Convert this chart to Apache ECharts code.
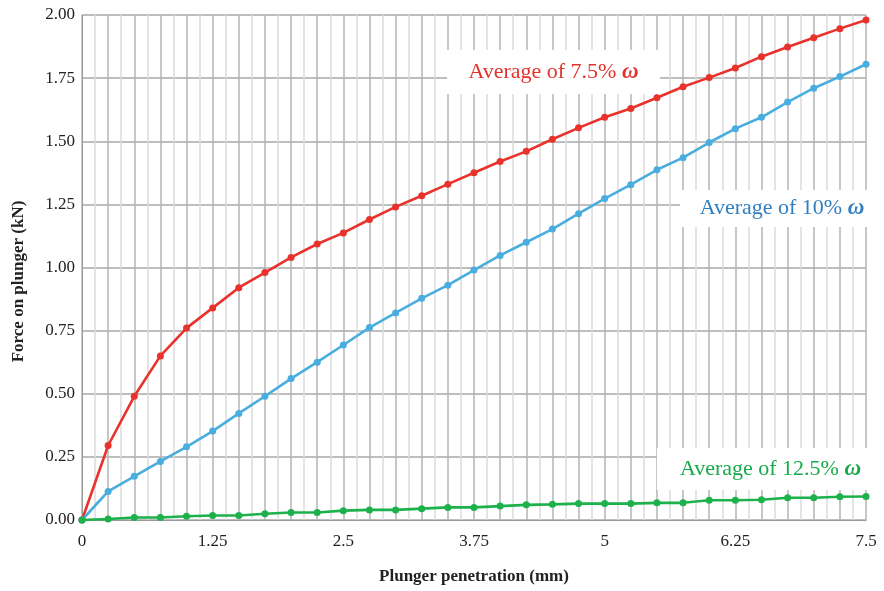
<!DOCTYPE html>
<html>
<head>
<meta charset="utf-8">
<script src="https://cdn.jsdelivr.net/npm/echarts@6/dist/echarts.min.js"></script>
<style>
  html, body { margin: 0; padding: 0; background: #fff; }
  #chart { width: 884px; height: 591px; }
</style>
</head>
<body>
<div id="chart"></div>
<script>
// Plunger penetration (mm), sampled every 0.25 mm
const penetration = [0, 0.25, 0.5, 0.75, 1, 1.25, 1.5, 1.75, 2, 2.25, 2.5, 2.75, 3, 3.25, 3.5, 3.75,
  4, 4.25, 4.5, 4.75, 5, 5.25, 5.5, 5.75, 6, 6.25, 6.5, 6.75, 7, 7.25, 7.5];

// Force on plunger (kN) for each moisture content
const force75 = [0, 0.295, 0.49, 0.65, 0.76, 0.84, 0.92, 0.98, 1.04, 1.093, 1.137, 1.19, 1.24, 1.284, 1.33, 1.375,
  1.42, 1.46, 1.508, 1.553, 1.595, 1.63, 1.672, 1.716, 1.752, 1.79, 1.835, 1.873, 1.91, 1.946, 1.98];
const force10 = [0, 0.113, 0.173, 0.232, 0.29, 0.352, 0.422, 0.49, 0.56, 0.625, 0.693, 0.762, 0.82, 0.878, 0.93, 0.99,
  1.048, 1.1, 1.152, 1.213, 1.273, 1.328, 1.387, 1.435, 1.495, 1.55, 1.595, 1.655, 1.71, 1.756, 1.805];
const force125 = [0, 0.004, 0.01, 0.01, 0.015, 0.018, 0.018, 0.025, 0.03, 0.03, 0.037, 0.04, 0.04, 0.045, 0.05, 0.05,
  0.055, 0.06, 0.062, 0.065, 0.065, 0.065, 0.068, 0.068, 0.078, 0.078, 0.08, 0.088, 0.088, 0.092, 0.093];

const seriesNames = ['Average of 7.5% ω', 'Average of 10% ω', 'Average of 12.5% ω'];
const labelPrefixes = ['Average of 7.5% ', 'Average of 10% ', 'Average of 12.5% '];
const xTickLabels = [0, 1.25, 2.5, 3.75, 5, 6.25, 7.5];

const RED = '#e8322b', BLUE = '#4aaddf', GREEN = '#1db14b';
const serif = '"Liberation Serif", "DejaVu Serif", serif';

function pairs(ys) { return penetration.map((x, i) => [x, ys[i]]); }

function lineSeries(name, ys, color) {
  return {
    name: name,
    type: 'line',
    data: pairs(ys),
    symbol: 'circle',
    symbolSize: 7,
    lineStyle: { color: color, width: 2.6 },
    itemStyle: { color: color },
    z: 3
  };
}

// White box plus centred caption ending in a bold italic omega
function labelBox(x, y, w, h, prefix, color) {
  return [
    {
      type: 'rect', z: 10,
      shape: { x: x, y: y, width: w, height: h },
      style: { fill: '#ffffff' }
    },
    {
      type: 'text', z: 11,
      x: x + w / 2, y: y + h / 2,
      style: {
        text: '{t|' + prefix + '}{w|ω}',
        fill: color,
        align: 'center', verticalAlign: 'middle',
        rich: {
          t: { fontFamily: serif, fontSize: 22, fill: color },
          w: { fontFamily: serif, fontSize: 23, fontWeight: 'bold', fontStyle: 'italic', fill: color }
        }
      }
    }
  ];
}

const chart = echarts.init(document.getElementById('chart'), null, { renderer: 'canvas' });
chart.setOption({
  backgroundColor: '#ffffff',
  animation: false,
  grid: { left: 82, right: 18, top: 15, bottom: 71, containLabel: false, outerBoundsMode: 'none' },
  xAxis: {
    type: 'value',
    min: 0, max: 7.5, interval: 0.25,
    name: 'Plunger penetration (mm)',
    nameLocation: 'middle', nameGap: 48,
    nameTextStyle: { fontFamily: serif, fontSize: 17, fontWeight: 'bold', color: '#222' },
    axisLine: { show: true, lineStyle: { color: '#9a9a9a', width: 1 } },
    axisTick: { show: false },
    axisLabel: {
      fontFamily: serif, fontSize: 17, color: '#222', margin: 13,
      formatter: function (v) {
        return xTickLabels.some(t => Math.abs(t - v) < 1e-6) ? String(v) : '';
      }
    },
    splitLine: { show: true, lineStyle: { color: '#b4b4b4', width: 1.5 } },
    minorTick: { show: false, splitNumber: 2 },
    minorSplitLine: { show: true, lineStyle: { color: '#dcdcdc', width: 1.5 } }
  },
  yAxis: {
    type: 'value',
    min: 0, max: 2, interval: 0.25,
    name: 'Force on plunger (kN)',
    nameLocation: 'middle', nameGap: 55, nameRotate: 90,
    nameTextStyle: { fontFamily: serif, fontSize: 17, fontWeight: 'bold', color: '#222', padding: [0, 28, 0, 0] },
    axisLine: { show: true, lineStyle: { color: '#9a9a9a', width: 1 } },
    axisTick: { show: false },
    axisLabel: {
      fontFamily: serif, fontSize: 17, color: '#222', margin: 7,
      formatter: v => v.toFixed(2)
    },
    splitLine: { show: true, lineStyle: { color: '#a8a8a8', width: 1.5 } }
  },
  series: [
    lineSeries(seriesNames[0], force75, RED),
    lineSeries(seriesNames[1], force10, BLUE),
    lineSeries(seriesNames[2], force125, GREEN)
  ],
  graphic: [].concat(
    labelBox(447, 50, 213, 44, labelPrefixes[0], '#e1332c'),
    labelBox(680, 190, 204, 37, labelPrefixes[1], '#2f7fc2'),
    labelBox(657, 448, 227, 42, labelPrefixes[2], '#18aa4a')
  )
});
</script>
</body>
</html>
